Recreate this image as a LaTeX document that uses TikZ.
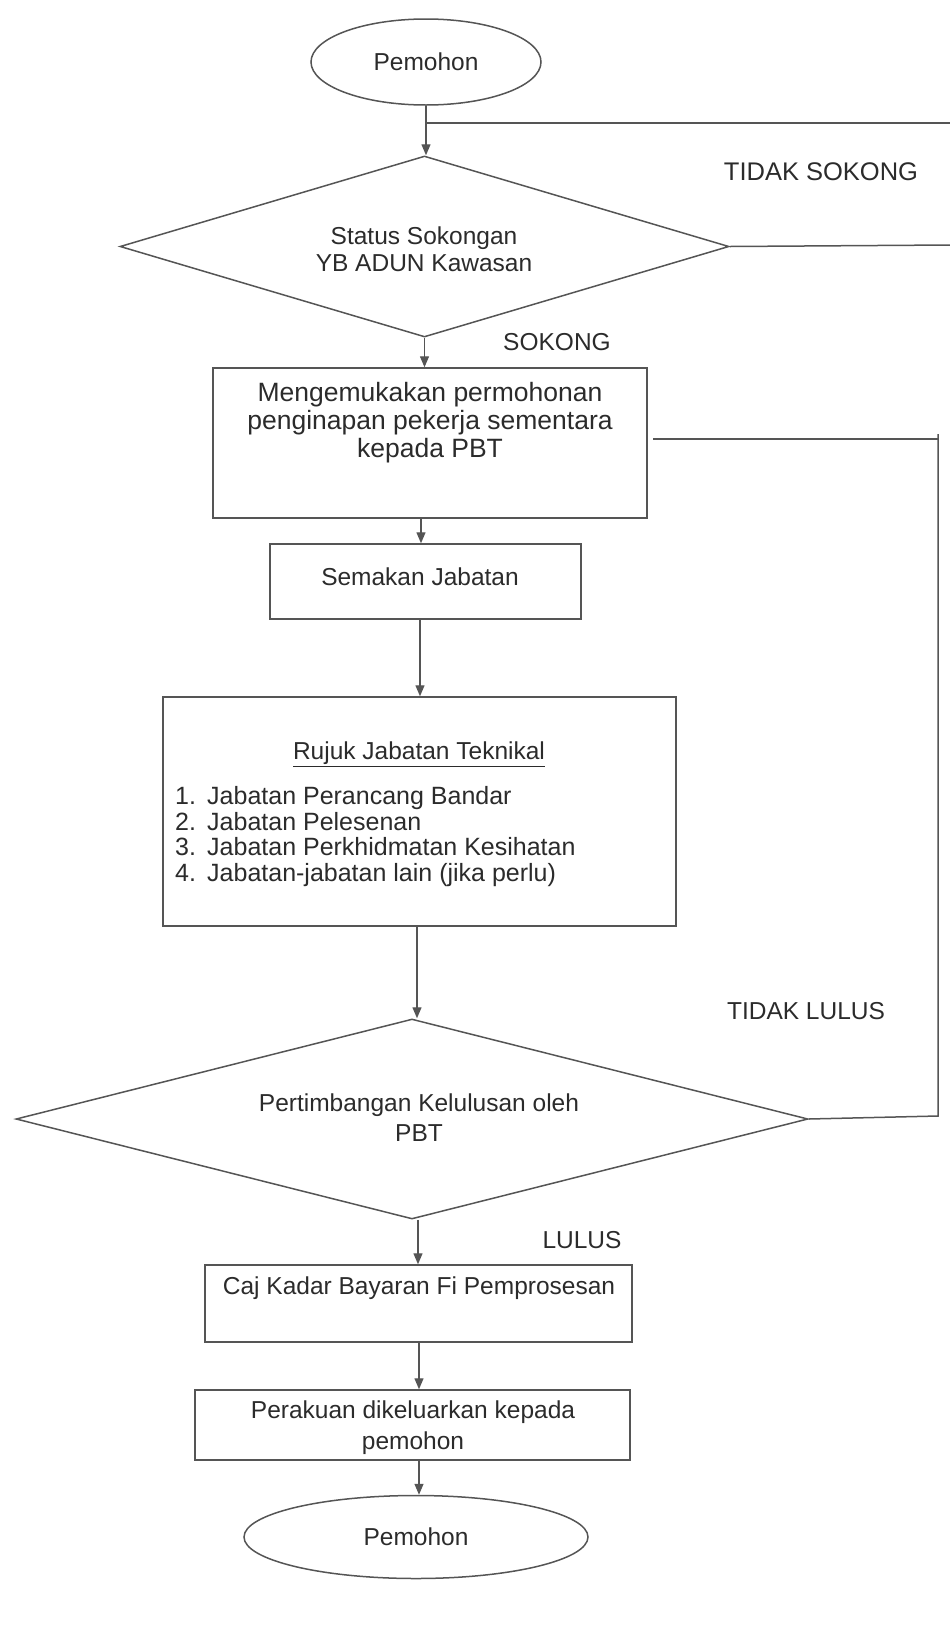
\documentclass[tikz,border=0pt]{standalone}
\usepackage{fontspec}
\setmainfont{Liberation Sans}
\usetikzlibrary{shapes.geometric,arrows.meta,calc}
\definecolor{ln}{HTML}{555555}
\definecolor{tx}{HTML}{2B2B2B}
\newcommand{\txtblk}[3]{\fontsize{#1}{#2}\selectfont\begin{tabular}[t]{@{}c@{}}#3\end{tabular}}
\begin{document}
\begin{tikzpicture}[x=1pt,y=-1pt,
  font=\fontsize{24.5}{28}\selectfont, text=tx,
  box/.style={draw=ln, line width=1.5pt, rectangle, inner sep=0pt},
  term/.style={draw=ln, line width=1.5pt, ellipse, inner sep=0pt},
  dec/.style={draw=ln, line width=1.5pt, diamond, inner sep=0pt},
  arr/.style={draw=ln, line width=1.3pt, -{Triangle[length=11pt,width=9pt]}},
  conn/.style={draw=ln, line width=1.5pt},
  lbl/.style={inner sep=0pt, anchor=base}]
\useasboundingbox (0,0) rectangle (950,1626);

% shapes
\node[term, minimum width=230pt, minimum height=86pt] (start) at (426,62) {};
\node[dec, minimum width=609pt, minimum height=181pt] (d1) at (424.5,246.5) {};
\node[box, minimum width=434pt, minimum height=150pt] (b1) at (430,443) {};
\node[box, minimum width=311pt, minimum height=75pt] (b2) at (425.5,581.5) {};
\node[box, minimum width=513pt, minimum height=229pt] (b3) at (419.5,811.5) {};
\node[dec, minimum width=792pt, minimum height=200pt] (d2) at (412,1119) {};
\node[box, minimum width=427pt, minimum height=77pt] (b4) at (418.5,1303.5) {};
\node[box, minimum width=435pt, minimum height=70pt] (b5) at (412.5,1425) {};
\node[term, minimum width=344pt, minimum height=83pt] (end) at (416,1537) {};

% texts
\node[lbl] (startt) at (426,70.5) {Pemohon};
\node[lbl] (d1t) at (424,244.5) {\txtblk{24.5}{27}{Status Sokongan\\YB ADUN Kawasan}};
\node[lbl] (b1t) at (430,401) {\txtblk{26.5}{28}{Mengemukakan permohonan\\penginapan pekerja sementara\\kepada PBT}};
\node[lbl] (b2t) at (420,585.5) {Semakan Jabatan};
\node[lbl] (b3t) at (419,759.5) {\underline{Rujuk Jabatan Teknikal}};
\node[inner sep=0pt, anchor=base west] (b3l) at (175,804.5) {\fontsize{25}{25}\selectfont
  \begin{tabular}[t]{@{}p{32pt}@{}l@{}}
  1. & Jabatan Perancang Bandar\\
  2. & Jabatan Pelesenan\\
  3. & Jabatan Perkhidmatan Kesihatan\\
  4. & Jabatan-jabatan lain (jika perlu)
  \end{tabular}};
\node[lbl] (d2t) at (419,1111.5) {\txtblk{24.5}{30}{Pertimbangan Kelulusan oleh\\PBT}};
\node[lbl] (b4t) at (419,1294.5) {Caj Kadar Bayaran Fi Pemprosesan};
\node[lbl] (b5t) at (413,1418.5) {\txtblk{24.5}{31}{Perakuan dikeluarkan kepada\\pemohon}};
\node[lbl] (endt) at (416,1545.5) {Pemohon};

% branch labels
\node[lbl, font=\fontsize{25.5}{28}\selectfont] (lts) at (821,180) {TIDAK SOKONG};
\node[lbl] (ls) at (557,350.5) {SOKONG};
\node[lbl] (ltl) at (806,1019.5) {TIDAK LULUS};
\node[lbl] (ll) at (582,1248.5) {LULUS};

% main flow arrows
\draw[arr] (start.south) -- (start.south |- d1.north);
\draw[arr] (d1.south) -- (d1.south |- b1.north);
\coordinate (a1) at (421,0);
\draw[arr] (a1 |- b1.south) -- (a1 |- b2.north);
\coordinate (a2) at (420,0);
\draw[arr] (a2 |- b2.south) -- (a2 |- b3.north);
\coordinate (a3) at (417,0);
\draw[arr] (a3 |- b3.south) -- (a3 |- d2.north);
\coordinate (a4) at (418,0);
\draw[arr] (a4 |- d2.south) -- (a4 |- b4.north);
\coordinate (a5) at (419,0);
\draw[arr] (a5 |- b4.south) -- (a5 |- b5.north);
\draw[arr] (a5 |- b5.south) -- (a5 |- end.north);

% off-page branches (TIDAK SOKONG)
\coordinate (j1) at (426,123);
\coordinate (e1) at (950,123);
\coordinate (e2) at (950,245);
\draw[conn] (j1) -- (e1);
\draw[conn] (d1.east) -- (e2);

% TIDAK LULUS loop
\coordinate (f1) at (653,439);
\coordinate (f0) at (938,434);
\coordinate (f3) at (938,1116);
\draw[conn] (f1) -- (f1 -| f0);
\draw[conn] (f0) -- (f3) -- (d2.east);
\end{tikzpicture}
\end{document}
